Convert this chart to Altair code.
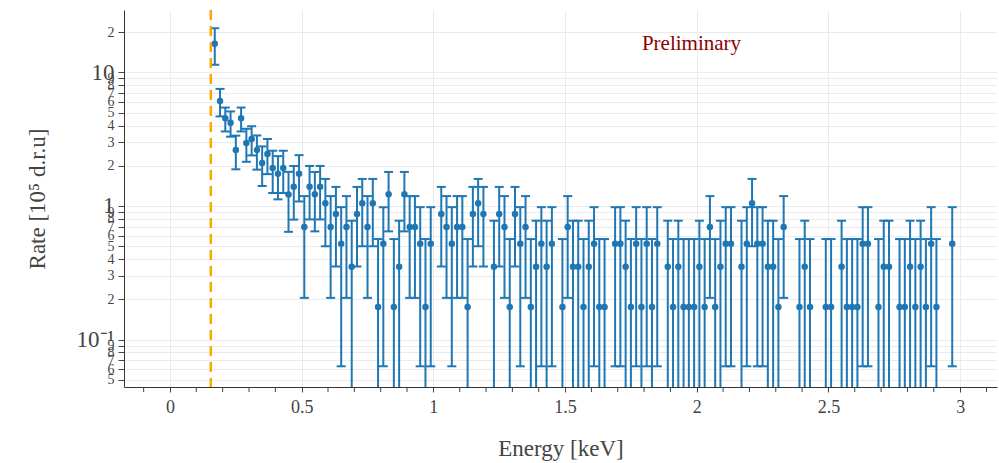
import altair as alt
import pandas as pd

# Bin centres (keV)
energy = [0.17, 0.19, 0.21, 0.23, 0.25, 0.27, 0.29, 0.31, 0.33, 0.35,
          0.37, 0.39, 0.41, 0.43, 0.45, 0.47, 0.49, 0.51, 0.53, 0.55,
          0.57, 0.59, 0.61, 0.63, 0.65, 0.67, 0.69, 0.71, 0.73, 0.75,
          0.77, 0.79, 0.81, 0.83, 0.85, 0.87, 0.89, 0.91, 0.93, 0.95,
          0.97, 0.99, 1.01, 1.03, 1.05, 1.07, 1.09, 1.11, 1.13, 1.15,
          1.17, 1.19, 1.21, 1.23, 1.25, 1.27, 1.29, 1.31, 1.33, 1.35,
          1.37, 1.39, 1.41, 1.43, 1.45, 1.47, 1.49, 1.51, 1.53, 1.55,
          1.57, 1.59, 1.61, 1.63, 1.65, 1.67, 1.69, 1.71, 1.73, 1.75,
          1.77, 1.79, 1.81, 1.83, 1.85, 1.87, 1.89, 1.91, 1.93, 1.95,
          1.97, 1.99, 2.01, 2.03, 2.05, 2.07, 2.09, 2.11, 2.13, 2.15,
          2.17, 2.19, 2.21, 2.23, 2.25, 2.27, 2.29, 2.31, 2.33, 2.35,
          2.37, 2.39, 2.41, 2.43, 2.45, 2.47, 2.49, 2.51, 2.53, 2.55,
          2.57, 2.59, 2.61, 2.63, 2.65, 2.67, 2.69, 2.71, 2.73, 2.75,
          2.77, 2.79, 2.81, 2.83, 2.85, 2.87, 2.89, 2.91, 2.93, 2.95,
          2.97]

# Rate [10^5 d.r.u] (None = empty bin, not shown on log axis)
rate = [16.4, 6.10, 4.53, 4.20, 2.62, 4.53, 2.96, 3.17, 2.62, 2.10,
        2.45, 1.92, 1.74, 1.92, 1.22, 1.39, 1.74, 0.695, 1.392, 1.221,
        1.392, 1.046, 0.695, 0.870, 0.521, 0.695, 0.35, 0.870, 1.046, 0.695,
        1.046, 0.175, 0.521, 1.221, 0.175, 0.35, 1.221, 0.695, 0.695, 0.521,
        0.175, 0.521, None, 0.870, 0.695, 0.521, 0.695, 0.695, 0.175, 0.870,
        1.046, 0.870, None, 0.35, 0.870, 0.695, 0.175, 0.870, 0.521, 0.695,
        0.175, 0.35, 0.521, 0.35, 0.521, None, 0.175, 0.695, 0.35, 0.35,
        0.175, 0.35, 0.521, 0.175, 0.175, None, 0.521, 0.521, 0.35, 0.175,
        0.521, 0.175, 0.521, 0.175, 0.521, None, 0.35, 0.175, 0.35, 0.175,
        0.175, 0.175, 0.35, 0.175, 0.695, 0.175, 0.35, 0.521, 0.521, None,
        0.35, 0.521, 1.046, 0.521, 0.521, 0.35, 0.35, 0.175, 0.695, None,
        None, 0.175, 0.35, 0.175, None, None, 0.175, 0.175, None, 0.35,
        0.175, 0.175, 0.175, 0.521, 0.521, None, 0.175, 0.35, 0.35, None,
        0.175, 0.175, 0.35, 0.175, 0.35, 0.175, 0.521, 0.175, None, None,
        0.521]

# Symmetric error on the rate
error = [5.0, 1.42, 0.92, 0.90, 0.74, 0.92, 0.82, 0.78, 0.75, 0.69,
         0.72, 0.67, 0.62, 0.67, 0.58, 0.60, 0.66, 0.49, 0.60, 0.576,
         0.60, 0.547, 0.49, 0.518, 0.458, 0.49, 0.425, 0.518, 0.547, 0.49,
         0.547, 0.39, 0.458, 0.576, 0.39, 0.425, 0.576, 0.49, 0.49, 0.458,
         0.39, 0.458, None, 0.518, 0.49, 0.458, 0.49, 0.49, 0.39, 0.518,
         0.547, 0.518, None, 0.425, 0.518, 0.49, 0.39, 0.518, 0.458, 0.49,
         0.39, 0.425, 0.458, 0.425, 0.458, None, 0.39, 0.49, 0.425, 0.425,
         0.39, 0.425, 0.458, 0.39, 0.39, None, 0.458, 0.458, 0.425, 0.39,
         0.458, 0.39, 0.458, 0.39, 0.458, None, 0.425, 0.39, 0.425, 0.39,
         0.39, 0.39, 0.425, 0.39, 0.49, 0.39, 0.425, 0.458, 0.458, None,
         0.425, 0.458, 0.547, 0.458, 0.458, 0.425, 0.425, 0.39, 0.49, None,
         None, 0.39, 0.425, 0.39, None, None, 0.39, 0.39, None, 0.425,
         0.39, 0.39, 0.39, 0.458, 0.458, None, 0.39, 0.425, 0.425, None,
         0.39, 0.39, 0.425, 0.39, 0.425, 0.39, 0.458, 0.39, None, None,
         0.458]

threshold = [0.155]
annotation_text = ["Preliminary"]
annotation_x = [1.98]
annotation_y = [16.3]

x_domain = [-0.1746, 3.14]
y_domain = [0.0441, 29.3]

y_tick_values = [0.05, 0.06, 0.07, 0.08, 0.09, 0.1, 0.2, 0.3, 0.4, 0.5, 0.6, 0.7,
                 0.8, 0.9, 1, 2, 3, 4, 5, 6, 7, 8, 9, 10, 20]
x_major_values = [0.0, 0.5, 1.0, 1.5, 2.0, 2.5, 3.0]
x_minor_values = [-0.1, 0.1, 0.2, 0.3, 0.4, 0.6, 0.7, 0.8, 0.9,
                  1.1, 1.2, 1.3, 1.4, 1.6, 1.7, 1.8, 1.9,
                  2.1, 2.2, 2.3, 2.4, 2.6, 2.7, 2.8, 2.9, 3.1]

df = pd.DataFrame({"energy": energy, "rate": rate, "err": error}).dropna()
df["hi"] = df["rate"] + df["err"]
df["lo"] = (df["rate"] - df["err"]).clip(lower=0.001)

FONT = "Liberation Serif"
BLUE = "#1f77b4"
AXIS_C = "#444444"

major_test = "datum.value == 10 || datum.value == 1 || abs(datum.value - 0.1) < 1e-9"
y_label_expr = (
    "datum.value == 10 ? '10 ' : datum.value == 1 ? '1 ' : "
    "abs(datum.value - 0.1) < 1e-9 ? '10\u207b\u00b9 ' : "
    "toString(round(datum.value / pow(10, floor(log(datum.value) / LN10 + 1e-6))))"
)

x_enc = alt.X(
    "energy:Q",
    scale=alt.Scale(domain=x_domain, nice=False, zero=False),
    axis=alt.Axis(
        values=x_major_values,
        format="~g",
        labelOverlap=False,
        labelFlush=False,
        labelFont=FONT,
        labelFontSize=18,
        labelColor=AXIS_C,
        labelPadding=6,
        tickSize=5,
        tickColor=AXIS_C,
        domainColor="#333333",
        grid=True,
        gridColor="#ebebeb",
        title="Energy [keV]",
        titleFont=FONT,
        titleFontSize=23,
        titleFontWeight="normal",
        titleColor=AXIS_C,
        titleBaseline="middle",
        titleAlign="center",
        titleX=436.5,
        titleY=61,
    ),
)

y_enc = alt.Y(
    "rate:Q",
    scale=alt.Scale(type="log", domain=y_domain, nice=False),
    axis=alt.Axis(
        values=y_tick_values,
        labelExpr=y_label_expr,
        labelOverlap=False,
        labelFlush=False,
        labelFont=FONT,
        labelFontSize={"condition": {"test": major_test, "value": 23},
                       "value": 14},
        labelColor=AXIS_C,
        labelPadding=4,
        tickSize=6,
        tickColor=AXIS_C,
        domainColor="#333333",
        grid=True,
        gridColor="#ebebeb",
        title="Rate [10\u2075 d.r.u]",
        titleFont=FONT,
        titleFontSize=23,
        titleFontWeight="normal",
        titleColor=AXIS_C,
        titleAngle=270,
        titleBaseline="middle",
        titleAlign="center",
        titleX=-87,
        titleY=188.5,
    ),
)

base = alt.Chart(df)

points = base.mark_circle(size=42, color=BLUE, opacity=1).encode(
    x=x_enc, y=y_enc
)
bars = base.mark_rule(color=BLUE, strokeWidth=2, clip=True).encode(
    x="energy:Q", y=alt.Y("lo:Q"), y2="hi:Q"
)
caps_hi = base.mark_tick(orient="horizontal", size=9, thickness=2,
                         color=BLUE, clip=True, opacity=1).encode(
    x="energy:Q", y="hi:Q"
)
caps_lo = base.mark_tick(orient="horizontal", size=9, thickness=2,
                         color=BLUE, clip=True, opacity=1).encode(
    x="energy:Q", y="lo:Q"
)

# minor x ticks (axis decoration just below the plot area)
minor_ticks = alt.Chart(pd.DataFrame({"m": x_minor_values})).mark_rule(
    color=AXIS_C, strokeWidth=1
).encode(x="m:Q", y=alt.value(377), y2=alt.value(382))

thr = alt.Chart(pd.DataFrame({"t": threshold})).mark_rule(
    color="#FFA500", strokeWidth=2.5, strokeDash=[10, 6]
).encode(x="t:Q")

ann = alt.Chart(pd.DataFrame({"x": annotation_x, "y": annotation_y,
                              "text": annotation_text})).mark_text(
    font=FONT, fontSize=21, color="#8B0000", align="center", baseline="middle"
).encode(x="x:Q", y="y:Q", text="text:N")

chart = alt.layer(points, bars, caps_hi, caps_lo, minor_ticks, thr, ann).properties(
    width=873,
    height=377,
    padding={"left": 124, "top": 10, "right": 2, "bottom": 76},
    autosize=alt.AutoSizeParams(type="none"),
    background="white",
).configure_view(stroke=None)

chart.save("out.html", embed_options={"renderer": "svg", "actions": False})
